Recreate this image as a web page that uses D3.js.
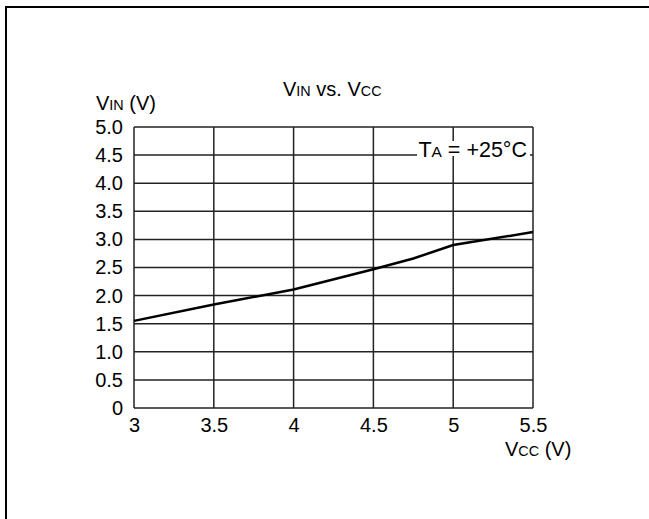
<!DOCTYPE html>
<html>
<head>
<meta charset="utf-8">
<script src="https://cdn.jsdelivr.net/npm/d3@7"></script>
<style>
	html, body { margin: 0; background: #fff; overflow: hidden; }
	svg { display: block; font-family: 'Liberation Sans', Arial, sans-serif; }
</style>
</head>
<body>
<svg id="chart" width="649" height="519"></svg>
<script>
const VCC = [3, 3.5, 4, 4.5, 4.75, 5, 5.5];
const VIN = [1.55, 1.84, 2.11, 2.47, 2.66, 2.9, 3.13];
const X_TICKS = [3, 3.5, 4, 4.5, 5, 5.5];
const Y_TICKS = [0, 0.5, 1, 1.5, 2, 2.5, 3, 3.5, 4, 4.5, 5];

const FONT = 20;
const $svg = d3.select('#chart');
const M = { left: 134, right: 533, top: 127, bottom: 408 };

const x = d3.scaleLinear().domain([3, 5.5]).range([M.left, M.right]);
const y = d3.scaleLinear().domain([0, 5]).range([M.bottom, M.top]);

// outer frame (top and left edges)
$svg.append('path')
	.attr('d', 'M6,519 V7 H649')
	.attr('fill', 'none')
	.attr('stroke', '#000')
	.attr('stroke-width', 2);

// grid
const $grid = $svg.append('g');
$grid.selectAll('.gx')
	.data(X_TICKS)
	.enter()
	.append('line')
	.attr('x1', d => x(d))
	.attr('x2', d => x(d))
	.attr('y1', M.top)
	.attr('y2', M.bottom)
	.attr('stroke', '#222')
	.attr('stroke-width', 1.5);
$grid.selectAll('.gy')
	.data(Y_TICKS)
	.enter()
	.append('line')
	.attr('x1', M.left)
	.attr('x2', M.right)
	.attr('y1', d => y(d))
	.attr('y2', d => y(d))
	.attr('stroke', '#222')
	.attr('stroke-width', 1.5);

// tick labels
const xAxis = d3.axisBottom(x).tickValues(X_TICKS).tickSize(0).tickPadding(10)
	.tickFormat(d => String(d));
const yAxis = d3.axisLeft(y).tickValues(Y_TICKS).tickSize(0).tickPadding(11)
	.tickFormat(d => (d === 0 ? '0' : d3.format('.1f')(d)));

const $xa = $svg.append('g').attr('transform', `translate(0,${M.bottom})`).call(xAxis);
const $ya = $svg.append('g').attr('transform', `translate(${M.left},0)`).call(yAxis);
[$xa, $ya].forEach($a => {
	$a.select('.domain').remove();
	$a.selectAll('text')
		.attr('font-size', FONT)
		.attr('font-family', "'Liberation Sans', Arial, sans-serif")
		.attr('fill', '#000');
});

// curve
const line = d3.line().x(d => x(d[0])).y(d => y(d[1]));
$svg.append('path')
	.datum(VCC.map((v, i) => [v, VIN[i]]))
	.attr('d', line)
	.attr('fill', 'none')
	.attr('stroke', '#000')
	.attr('stroke-width', 2.5);

// label with small-cap style subscripts: parts = [[text, small], ...]
function label(tx, ty, parts, size, anchor) {
	const $t = $svg.append('text')
		.attr('x', tx)
		.attr('y', ty)
		.attr('font-size', size)
		.attr('text-anchor', anchor || 'start');
	parts.forEach(([s, small]) => {
		$t.append('tspan').attr('font-size', small ? size * 0.72 : size).text(s);
	});
	return $t;
}

// legend label with white box behind it
$svg.append('rect')
	.attr('x', 417)
	.attr('y', 141)
	.attr('width', 113)
	.attr('height', 15)
	.attr('fill', '#fff');
label(527, 156.5, [['T'], ['A', 1], [' = +25°C']], 21.5, 'end');

label(283, 96, [['V'], ['IN', 1], [' vs. V'], ['CC', 1]], FONT);
label(96, 110, [['V'], ['IN', 1], [' (V)']], FONT);
label(505, 456, [['V'], ['CC', 1], [' (V)']], FONT);
</script>
</body>
</html>
